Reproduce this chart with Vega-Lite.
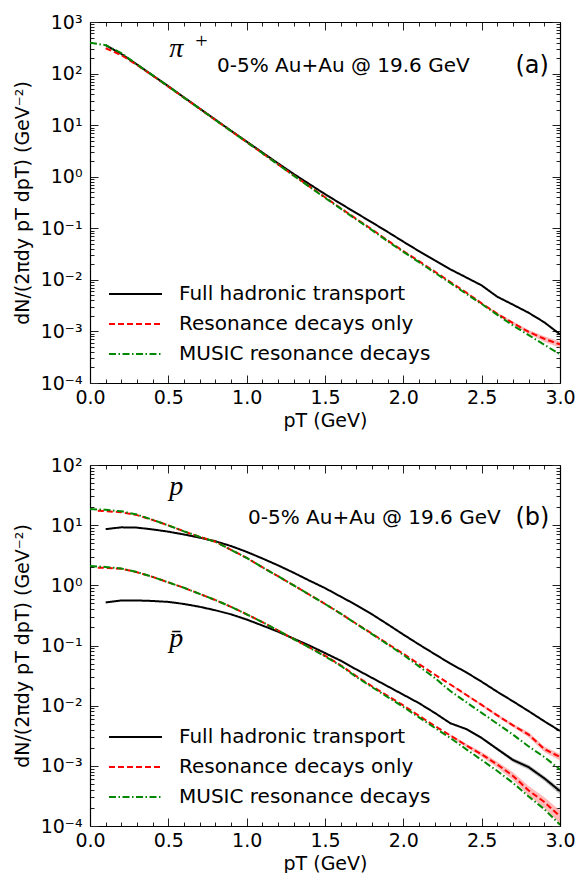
{
  "$schema": "https://vega.github.io/schema/vega-lite/v6.json",
  "autosize": {"type": "pad"},
  "padding": {"left": 13, "top": 13, "right": 5, "bottom": 0},
  "background": "white",
  "bounds": "flush",
  "spacing": 82,
  "config": {
    "view": {"stroke": null},
    "axis": {
      "grid": false,
      "domainColor": "black",
      "domainWidth": 1.2,
      "tickColor": "#222222",
      "tickWidth": 1,
      "labelFont": "DejaVu Sans",
      "labelFontSize": 19,
      "labelColor": "black",
      "labelOverlap": false,
      "labelBound": false,
      "labelFlush": false,
      "titleFont": "DejaVu Sans",
      "titleFontSize": 19,
      "titleFontWeight": "normal",
      "titleColor": "black"
    },
    "text": {"font": "DejaVu Sans", "color": "black"}
  },
  "datasets": {
    "pion": [
      {"s":"full","pT":0.1,"v":355},{"s":"full","pT":0.2,"v":240},{"s":"full","pT":0.3,"v":150},{"s":"full","pT":0.4,"v":92},{"s":"full","pT":0.5,"v":57},
      {"s":"full","pT":0.6,"v":34.5},{"s":"full","pT":0.7,"v":21},{"s":"full","pT":0.8,"v":12.8},{"s":"full","pT":0.9,"v":7.8},{"s":"full","pT":1.0,"v":4.8},
      {"s":"full","pT":1.1,"v":2.95},{"s":"full","pT":1.2,"v":1.82},{"s":"full","pT":1.3,"v":1.13},{"s":"full","pT":1.4,"v":0.72},{"s":"full","pT":1.5,"v":0.46},
      {"s":"full","pT":1.6,"v":0.3},{"s":"full","pT":1.7,"v":0.197},{"s":"full","pT":1.8,"v":0.13},{"s":"full","pT":1.9,"v":0.085},{"s":"full","pT":2.0,"v":0.055},
      {"s":"full","pT":2.1,"v":0.036},{"s":"full","pT":2.2,"v":0.024},{"s":"full","pT":2.3,"v":0.016},{"s":"full","pT":2.4,"v":0.0112},{"s":"full","pT":2.5,"v":0.0078},
      {"s":"full","pT":2.6,"v":0.0047},{"s":"full","pT":2.7,"v":0.0033},{"s":"full","pT":2.8,"v":0.0023},{"s":"full","pT":2.9,"v":0.0015},{"s":"full","pT":3.0,"v":0.00088},
      {"s":"res","pT":0.1,"v":310},{"s":"res","pT":0.2,"v":228},{"s":"res","pT":0.3,"v":147},{"s":"res","pT":0.4,"v":91},{"s":"res","pT":0.5,"v":56},
      {"s":"res","pT":0.6,"v":34},{"s":"res","pT":0.7,"v":20.8},{"s":"res","pT":0.8,"v":12.6},{"s":"res","pT":0.9,"v":7.7},{"s":"res","pT":1.0,"v":4.7},
      {"s":"res","pT":1.1,"v":2.85},{"s":"res","pT":1.2,"v":1.74},{"s":"res","pT":1.3,"v":1.06},{"s":"res","pT":1.4,"v":0.65},{"s":"res","pT":1.5,"v":0.4},
      {"s":"res","pT":1.6,"v":0.245},{"s":"res","pT":1.7,"v":0.152},{"s":"res","pT":1.8,"v":0.095},{"s":"res","pT":1.9,"v":0.058},{"s":"res","pT":2.0,"v":0.036},
      {"s":"res","pT":2.1,"v":0.023},{"s":"res","pT":2.2,"v":0.0145},{"s":"res","pT":2.3,"v":0.0091},{"s":"res","pT":2.4,"v":0.0057},{"s":"res","pT":2.5,"v":0.0035},
      {"s":"res","pT":2.6,"v":0.0022},{"s":"res","pT":2.7,"v":0.00145},{"s":"res","pT":2.8,"v":0.00098},{"s":"res","pT":2.9,"v":0.00072},{"s":"res","pT":3.0,"v":0.00056},
      {"s":"music","pT":0.0,"v":395},{"s":"music","pT":0.1,"v":355},{"s":"music","pT":0.2,"v":250},{"s":"music","pT":0.3,"v":150},{"s":"music","pT":0.4,"v":92},
      {"s":"music","pT":0.5,"v":56.5},{"s":"music","pT":0.6,"v":34},{"s":"music","pT":0.7,"v":20.8},{"s":"music","pT":0.8,"v":12.6},{"s":"music","pT":0.9,"v":7.7},
      {"s":"music","pT":1.0,"v":4.7},{"s":"music","pT":1.1,"v":2.85},{"s":"music","pT":1.2,"v":1.73},{"s":"music","pT":1.3,"v":1.05},{"s":"music","pT":1.4,"v":0.64},
      {"s":"music","pT":1.5,"v":0.39},{"s":"music","pT":1.6,"v":0.24},{"s":"music","pT":1.7,"v":0.148},{"s":"music","pT":1.8,"v":0.092},{"s":"music","pT":1.9,"v":0.056},
      {"s":"music","pT":2.0,"v":0.035},{"s":"music","pT":2.1,"v":0.022},{"s":"music","pT":2.2,"v":0.0138},{"s":"music","pT":2.3,"v":0.0087},{"s":"music","pT":2.4,"v":0.0054},
      {"s":"music","pT":2.5,"v":0.0034},{"s":"music","pT":2.6,"v":0.0021},{"s":"music","pT":2.7,"v":0.0013},{"s":"music","pT":2.8,"v":0.00085},{"s":"music","pT":2.9,"v":0.00055},
      {"s":"music","pT":3.0,"v":0.00036}
    ],
    "pionBand": [
      {"s":"res","pT":2.4,"lo":0.0055,"hi":0.0059},{"s":"res","pT":2.5,"lo":0.00336,"hi":0.00364},{"s":"res","pT":2.6,"lo":0.00209,"hi":0.00231},
      {"s":"res","pT":2.7,"lo":0.00135,"hi":0.00155},{"s":"res","pT":2.8,"lo":0.00089,"hi":0.00107},{"s":"res","pT":2.9,"lo":0.00063,"hi":0.00081},
      {"s":"res","pT":3.0,"lo":0.00048,"hi":0.00064}
    ],
    "proton": [
      {"h":"p","s":"full","pT":0.1,"v":8.6},{"h":"p","s":"full","pT":0.2,"v":9.2},{"h":"p","s":"full","pT":0.3,"v":9.1},{"h":"p","s":"full","pT":0.4,"v":8.5},{"h":"p","s":"full","pT":0.5,"v":7.8},
      {"h":"p","s":"full","pT":0.6,"v":7.0},{"h":"p","s":"full","pT":0.7,"v":6.2},{"h":"p","s":"full","pT":0.8,"v":5.4},{"h":"p","s":"full","pT":0.9,"v":4.5},{"h":"p","s":"full","pT":1.0,"v":3.6},
      {"h":"p","s":"full","pT":1.1,"v":2.8},{"h":"p","s":"full","pT":1.2,"v":2.15},{"h":"p","s":"full","pT":1.3,"v":1.62},{"h":"p","s":"full","pT":1.4,"v":1.2},{"h":"p","s":"full","pT":1.5,"v":0.9},
      {"h":"p","s":"full","pT":1.6,"v":0.65},{"h":"p","s":"full","pT":1.7,"v":0.47},{"h":"p","s":"full","pT":1.8,"v":0.33},{"h":"p","s":"full","pT":1.9,"v":0.225},{"h":"p","s":"full","pT":2.0,"v":0.152},
      {"h":"p","s":"full","pT":2.1,"v":0.104},{"h":"p","s":"full","pT":2.2,"v":0.072},{"h":"p","s":"full","pT":2.3,"v":0.05},{"h":"p","s":"full","pT":2.4,"v":0.036},{"h":"p","s":"full","pT":2.5,"v":0.025},
      {"h":"p","s":"full","pT":2.6,"v":0.017},{"h":"p","s":"full","pT":2.7,"v":0.0118},{"h":"p","s":"full","pT":2.8,"v":0.0081},{"h":"p","s":"full","pT":2.9,"v":0.0055},{"h":"p","s":"full","pT":3.0,"v":0.0038},
      {"h":"pbar","s":"full","pT":0.1,"v":0.52},{"h":"pbar","s":"full","pT":0.2,"v":0.56},{"h":"pbar","s":"full","pT":0.3,"v":0.56},{"h":"pbar","s":"full","pT":0.4,"v":0.55},{"h":"pbar","s":"full","pT":0.5,"v":0.53},
      {"h":"pbar","s":"full","pT":0.6,"v":0.49},{"h":"pbar","s":"full","pT":0.7,"v":0.44},{"h":"pbar","s":"full","pT":0.8,"v":0.385},{"h":"pbar","s":"full","pT":0.9,"v":0.33},{"h":"pbar","s":"full","pT":1.0,"v":0.27},
      {"h":"pbar","s":"full","pT":1.1,"v":0.215},{"h":"pbar","s":"full","pT":1.2,"v":0.17},{"h":"pbar","s":"full","pT":1.3,"v":0.13},{"h":"pbar","s":"full","pT":1.4,"v":0.1},{"h":"pbar","s":"full","pT":1.5,"v":0.075},
      {"h":"pbar","s":"full","pT":1.6,"v":0.056},{"h":"pbar","s":"full","pT":1.7,"v":0.04},{"h":"pbar","s":"full","pT":1.8,"v":0.029},{"h":"pbar","s":"full","pT":1.9,"v":0.021},{"h":"pbar","s":"full","pT":2.0,"v":0.0152},
      {"h":"pbar","s":"full","pT":2.1,"v":0.011},{"h":"pbar","s":"full","pT":2.2,"v":0.0076},{"h":"pbar","s":"full","pT":2.3,"v":0.0051},{"h":"pbar","s":"full","pT":2.4,"v":0.0041},{"h":"pbar","s":"full","pT":2.5,"v":0.0029},
      {"h":"pbar","s":"full","pT":2.6,"v":0.0019},{"h":"pbar","s":"full","pT":2.7,"v":0.00125},{"h":"pbar","s":"full","pT":2.8,"v":0.00095},{"h":"pbar","s":"full","pT":2.9,"v":0.00062},{"h":"pbar","s":"full","pT":3.0,"v":0.00038},
      {"h":"p","s":"res","pT":0.05,"v":17.3},{"h":"p","s":"res","pT":0.1,"v":17.1},{"h":"p","s":"res","pT":0.2,"v":16.4},{"h":"p","s":"res","pT":0.3,"v":14.7},{"h":"p","s":"res","pT":0.4,"v":12.2},
      {"h":"p","s":"res","pT":0.5,"v":9.9},{"h":"p","s":"res","pT":0.6,"v":7.9},{"h":"p","s":"res","pT":0.7,"v":6.4},{"h":"p","s":"res","pT":0.8,"v":5.3},{"h":"p","s":"res","pT":0.9,"v":3.9},
      {"h":"p","s":"res","pT":1.0,"v":2.85},{"h":"p","s":"res","pT":1.1,"v":2.0},{"h":"p","s":"res","pT":1.2,"v":1.42},{"h":"p","s":"res","pT":1.3,"v":1.0},{"h":"p","s":"res","pT":1.4,"v":0.7},
      {"h":"p","s":"res","pT":1.5,"v":0.49},{"h":"p","s":"res","pT":1.6,"v":0.34},{"h":"p","s":"res","pT":1.7,"v":0.23},{"h":"p","s":"res","pT":1.8,"v":0.157},{"h":"p","s":"res","pT":1.9,"v":0.107},
      {"h":"p","s":"res","pT":2.0,"v":0.073},{"h":"p","s":"res","pT":2.1,"v":0.049},{"h":"p","s":"res","pT":2.2,"v":0.033},{"h":"p","s":"res","pT":2.3,"v":0.0225},{"h":"p","s":"res","pT":2.4,"v":0.0152},
      {"h":"p","s":"res","pT":2.5,"v":0.0103},{"h":"p","s":"res","pT":2.6,"v":0.0069},{"h":"p","s":"res","pT":2.7,"v":0.0047},{"h":"p","s":"res","pT":2.8,"v":0.0033},{"h":"p","s":"res","pT":2.9,"v":0.0019},
      {"h":"p","s":"res","pT":3.0,"v":0.0014},
      {"h":"pbar","s":"res","pT":0.05,"v":1.96},{"h":"pbar","s":"res","pT":0.1,"v":1.95},{"h":"pbar","s":"res","pT":0.2,"v":1.88},{"h":"pbar","s":"res","pT":0.3,"v":1.65},{"h":"pbar","s":"res","pT":0.4,"v":1.38},
      {"h":"pbar","s":"res","pT":0.5,"v":1.12},{"h":"pbar","s":"res","pT":0.6,"v":0.91},{"h":"pbar","s":"res","pT":0.7,"v":0.72},{"h":"pbar","s":"res","pT":0.8,"v":0.57},{"h":"pbar","s":"res","pT":0.9,"v":0.44},
      {"h":"pbar","s":"res","pT":1.0,"v":0.33},{"h":"pbar","s":"res","pT":1.1,"v":0.245},{"h":"pbar","s":"res","pT":1.2,"v":0.178},{"h":"pbar","s":"res","pT":1.3,"v":0.128},{"h":"pbar","s":"res","pT":1.4,"v":0.093},
      {"h":"pbar","s":"res","pT":1.5,"v":0.068},{"h":"pbar","s":"res","pT":1.6,"v":0.047},{"h":"pbar","s":"res","pT":1.7,"v":0.031},{"h":"pbar","s":"res","pT":1.8,"v":0.021},{"h":"pbar","s":"res","pT":1.9,"v":0.0145},
      {"h":"pbar","s":"res","pT":2.0,"v":0.0101},{"h":"pbar","s":"res","pT":2.1,"v":0.0068},{"h":"pbar","s":"res","pT":2.2,"v":0.0046},{"h":"pbar","s":"res","pT":2.3,"v":0.0032},{"h":"pbar","s":"res","pT":2.4,"v":0.0022},
      {"h":"pbar","s":"res","pT":2.5,"v":0.00155},{"h":"pbar","s":"res","pT":2.6,"v":0.00105},{"h":"pbar","s":"res","pT":2.7,"v":0.00068},{"h":"pbar","s":"res","pT":2.8,"v":0.00039},{"h":"pbar","s":"res","pT":2.9,"v":0.00025},
      {"h":"pbar","s":"res","pT":3.0,"v":0.000145},
      {"h":"p","s":"music","pT":0.0,"v":18.5},{"h":"p","s":"music","pT":0.1,"v":18.0},{"h":"p","s":"music","pT":0.2,"v":17.0},{"h":"p","s":"music","pT":0.3,"v":15.0},{"h":"p","s":"music","pT":0.4,"v":12.3},
      {"h":"p","s":"music","pT":0.5,"v":9.9},{"h":"p","s":"music","pT":0.6,"v":7.9},{"h":"p","s":"music","pT":0.7,"v":6.4},{"h":"p","s":"music","pT":0.8,"v":5.3},{"h":"p","s":"music","pT":0.9,"v":3.9},
      {"h":"p","s":"music","pT":1.0,"v":2.85},{"h":"p","s":"music","pT":1.1,"v":2.0},{"h":"p","s":"music","pT":1.2,"v":1.42},{"h":"p","s":"music","pT":1.3,"v":1.0},{"h":"p","s":"music","pT":1.4,"v":0.7},
      {"h":"p","s":"music","pT":1.5,"v":0.49},{"h":"p","s":"music","pT":1.6,"v":0.34},{"h":"p","s":"music","pT":1.7,"v":0.228},{"h":"p","s":"music","pT":1.8,"v":0.155},{"h":"p","s":"music","pT":1.9,"v":0.104},
      {"h":"p","s":"music","pT":2.0,"v":0.07},{"h":"p","s":"music","pT":2.1,"v":0.045},{"h":"p","s":"music","pT":2.2,"v":0.029},{"h":"p","s":"music","pT":2.3,"v":0.0175},{"h":"p","s":"music","pT":2.4,"v":0.0115},
      {"h":"p","s":"music","pT":2.5,"v":0.0076},{"h":"p","s":"music","pT":2.6,"v":0.005},{"h":"p","s":"music","pT":2.7,"v":0.0033},{"h":"p","s":"music","pT":2.8,"v":0.0021},{"h":"p","s":"music","pT":2.9,"v":0.0014},
      {"h":"p","s":"music","pT":3.0,"v":0.00087},
      {"h":"pbar","s":"music","pT":0.0,"v":2.1},{"h":"pbar","s":"music","pT":0.1,"v":2.02},{"h":"pbar","s":"music","pT":0.2,"v":1.9},{"h":"pbar","s":"music","pT":0.3,"v":1.66},{"h":"pbar","s":"music","pT":0.4,"v":1.38},
      {"h":"pbar","s":"music","pT":0.5,"v":1.12},{"h":"pbar","s":"music","pT":0.6,"v":0.91},{"h":"pbar","s":"music","pT":0.7,"v":0.72},{"h":"pbar","s":"music","pT":0.8,"v":0.57},{"h":"pbar","s":"music","pT":0.9,"v":0.44},
      {"h":"pbar","s":"music","pT":1.0,"v":0.33},{"h":"pbar","s":"music","pT":1.1,"v":0.245},{"h":"pbar","s":"music","pT":1.2,"v":0.178},{"h":"pbar","s":"music","pT":1.3,"v":0.128},{"h":"pbar","s":"music","pT":1.4,"v":0.092},
      {"h":"pbar","s":"music","pT":1.5,"v":0.066},{"h":"pbar","s":"music","pT":1.6,"v":0.046},{"h":"pbar","s":"music","pT":1.7,"v":0.03},{"h":"pbar","s":"music","pT":1.8,"v":0.0203},{"h":"pbar","s":"music","pT":1.9,"v":0.0139},
      {"h":"pbar","s":"music","pT":2.0,"v":0.0095},{"h":"pbar","s":"music","pT":2.1,"v":0.0064},{"h":"pbar","s":"music","pT":2.2,"v":0.0043},{"h":"pbar","s":"music","pT":2.3,"v":0.0029},{"h":"pbar","s":"music","pT":2.4,"v":0.0019},
      {"h":"pbar","s":"music","pT":2.5,"v":0.00125},{"h":"pbar","s":"music","pT":2.6,"v":0.00082},{"h":"pbar","s":"music","pT":2.7,"v":0.00052},{"h":"pbar","s":"music","pT":2.8,"v":0.00031},{"h":"pbar","s":"music","pT":2.9,"v":0.00019},
      {"h":"pbar","s":"music","pT":3.0,"v":0.000105}
    ],
    "protonBand": [
      {"h":"p","s":"res","pT":2.3,"lo":0.0218,"hi":0.0232},{"h":"p","s":"res","pT":2.4,"lo":0.0146,"hi":0.0158},{"h":"p","s":"res","pT":2.5,"lo":0.0098,"hi":0.0108},
      {"h":"p","s":"res","pT":2.6,"lo":0.0065,"hi":0.0073},{"h":"p","s":"res","pT":2.7,"lo":0.0044,"hi":0.005},{"h":"p","s":"res","pT":2.8,"lo":0.003,"hi":0.0036},
      {"h":"p","s":"res","pT":2.9,"lo":0.0017,"hi":0.0021},{"h":"p","s":"res","pT":3.0,"lo":0.00123,"hi":0.00157},
      {"h":"pbar","s":"res","pT":2.3,"lo":0.00304,"hi":0.00336},{"h":"pbar","s":"res","pT":2.4,"lo":0.00205,"hi":0.00235},{"h":"pbar","s":"res","pT":2.5,"lo":0.00141,"hi":0.00169},
      {"h":"pbar","s":"res","pT":2.6,"lo":0.00093,"hi":0.00117},{"h":"pbar","s":"res","pT":2.7,"lo":0.00058,"hi":0.00078},{"h":"pbar","s":"res","pT":2.8,"lo":0.00032,"hi":0.00046},
      {"h":"pbar","s":"res","pT":2.9,"lo":0.0002,"hi":0.0003},{"h":"pbar","s":"res","pT":3.0,"lo":0.000109,"hi":0.000181},
      {"h":"pbar","s":"full","pT":2.4,"lo":0.00394,"hi":0.00426},{"h":"pbar","s":"full","pT":2.5,"lo":0.00276,"hi":0.00304},{"h":"pbar","s":"full","pT":2.6,"lo":0.00179,"hi":0.00201},
      {"h":"pbar","s":"full","pT":2.7,"lo":0.00115,"hi":0.00135},{"h":"pbar","s":"full","pT":2.8,"lo":0.00086,"hi":0.00104},{"h":"pbar","s":"full","pT":2.9,"lo":0.00056,"hi":0.00068},
      {"h":"pbar","s":"full","pT":3.0,"lo":0.000334,"hi":0.000426}
    ],
    "notesA": [
      {"k":"math","t":"π","pT":0.551,"v":207},
      {"k":"sup","t":"+","pT":0.711,"v":429},
      {"k":"label","t":"0-5% Au+Au @ 19.6 GeV","pT":0.811,"v":140},
      {"k":"tag","t":"(a)","pT":2.716,"v":140}
    ],
    "notesB": [
      {"k":"math","t":"p","pT":0.551,"v":31.4},
      {"k":"math","t":"p̄","pT":0.551,"v":0.096},
      {"k":"label","t":"0-5% Au+Au @ 19.6 GeV","pT":1.009,"v":13},
      {"k":"tag","t":"(b)","pT":2.716,"v":13}
    ]
  },
  "vconcat": [
    {
      "width": 470,
      "height": 361,
      "layer": [
        {
          "data": {"name": "pionBand"},
          "mark": {"type": "area", "color": "#ff8080", "opacity": 0.55, "clip": true},
          "encoding": {
            "x": {"field": "pT", "type": "quantitative", "scale": {"domain": [0, 3], "nice": false}, "axis": null},
            "y": {"field": "lo", "type": "quantitative", "scale": {"type": "log", "domain": [0.0001, 1000], "nice": false}, "axis": null},
            "y2": {"field": "hi"}
          }
        },
        {
          "data": {"name": "pion"},
          "mark": {"type": "line", "strokeWidth": 2, "clip": true},
          "encoding": {
            "x": {
              "field": "pT", "type": "quantitative",
              "axis": {
                "orient": "bottom",
                "title": "pT (GeV)",
                "titlePadding": 0,
                "values": [0,0.1,0.2,0.3,0.4,0.5,0.6,0.7,0.8,0.9,1,1.1,1.2,1.3,1.4,1.5,1.6,1.7,1.8,1.9,2,2.1,2.2,2.3,2.4,2.5,2.6,2.7,2.8,2.9,3],
                "labelExpr": "abs(datum.value*2-round(datum.value*2))<0.001 ? format(datum.value, '.1f') : ''",
                "tickSize": {"condition": {"test": "abs(datum.value*2-round(datum.value*2))<0.001", "value": -8}, "value": -4},
                "labelPadding": 13
              }
            },
            "y": {
              "field": "v", "type": "quantitative",
              "axis": {
                "orient": "left",
                "title": "dN/(2πdy pT dpT) (GeV⁻²)",
                "titlePadding": 8,
                "values": [0.0001,0.0002,0.0003,0.0004,0.0005,0.0006,0.0007,0.0008,0.0009,0.001,0.002,0.003,0.004,0.005,0.006,0.007,0.008,0.009,0.01,0.02,0.03,0.04,0.05,0.06,0.07,0.08,0.09,0.1,0.2,0.3,0.4,0.5,0.6,0.7,0.8,0.9,1,2,3,4,5,6,7,8,9,10,20,30,40,50,60,70,80,90,100,200,300,400,500,600,700,800,900,1000],
                "labelExpr": "abs(log(datum.value)/LN10-round(log(datum.value)/LN10))<0.000001 ? ['10⁻⁴','10⁻³','10⁻²','10⁻¹','10⁰','10¹','10²','10³'][round(log(datum.value)/LN10)+4] : ''",
                "tickSize": {"condition": {"test": "abs(log(datum.value)/LN10-round(log(datum.value)/LN10))<0.000001", "value": -8}, "value": -4},
                "labelPadding": 16
              }
            },
            "color": {
              "field": "s", "type": "nominal",
              "scale": {"domain": ["full", "res", "music"], "range": ["#000000", "#ff0000", "#008800"]},
              "legend": {
                "title": null, "orient": "none", "legendX": 18, "legendY": 258,
                "labelExpr": "{'full': 'Full hadronic transport', 'res': 'Resonance decays only', 'music': 'MUSIC resonance decays'}[datum.value]",
                "symbolType": "stroke", "symbolSize": 2809, "symbolStrokeWidth": 2, "clipHeight": 28, "rowPadding": 2,
                "labelOffset": 16, "labelFontSize": 20, "labelLimit": 400, "labelFont": "DejaVu Sans", "labelColor": "black", "padding": 0
              }
            },
            "strokeDash": {
              "field": "s", "type": "nominal",
              "scale": {"domain": ["full", "res", "music"], "range": [[1, 0], [6, 3], [7, 2.5, 1.5, 2.5]]},
              "legend": {
                "title": null, "orient": "none", "legendX": 18, "legendY": 258,
                "labelExpr": "{'full': 'Full hadronic transport', 'res': 'Resonance decays only', 'music': 'MUSIC resonance decays'}[datum.value]",
                "symbolType": "stroke", "symbolSize": 2809, "symbolStrokeWidth": 2, "clipHeight": 28, "rowPadding": 2,
                "labelOffset": 16, "labelFontSize": 20, "labelLimit": 400, "labelFont": "DejaVu Sans", "labelColor": "black", "padding": 0
              }
            }
          }
        },
        {
          "data": {"name": "pion"},
          "mark": {"type": "line", "strokeOpacity": 0},
          "encoding": {
            "x": {
              "field": "pT", "type": "quantitative",
              "axis": {
                "orient": "top", "title": null, "labels": false,
                "values": [0,0.1,0.2,0.3,0.4,0.5,0.6,0.7,0.8,0.9,1,1.1,1.2,1.3,1.4,1.5,1.6,1.7,1.8,1.9,2,2.1,2.2,2.3,2.4,2.5,2.6,2.7,2.8,2.9,3],
                "tickSize": {"condition": {"test": "abs(datum.value*2-round(datum.value*2))<0.001", "value": -8}, "value": -4}
              }
            },
            "y": {
              "field": "v", "type": "quantitative",
              "axis": {
                "orient": "right", "title": null, "labels": false,
                "values": [0.0001,0.0002,0.0003,0.0004,0.0005,0.0006,0.0007,0.0008,0.0009,0.001,0.002,0.003,0.004,0.005,0.006,0.007,0.008,0.009,0.01,0.02,0.03,0.04,0.05,0.06,0.07,0.08,0.09,0.1,0.2,0.3,0.4,0.5,0.6,0.7,0.8,0.9,1,2,3,4,5,6,7,8,9,10,20,30,40,50,60,70,80,90,100,200,300,400,500,600,700,800,900,1000],
                "tickSize": {"condition": {"test": "abs(log(datum.value)/LN10-round(log(datum.value)/LN10))<0.000001", "value": -8}, "value": -4}
              }
            },
            "detail": {"field": "s"}
          }
        },
        {
          "data": {"name": "notesA"},
          "transform": [{"filter": "datum.k == 'math'"}],
          "mark": {"type": "text", "font": "Liberation Serif", "fontStyle": "italic", "fontSize": 28, "align": "center", "baseline": "alphabetic"},
          "encoding": {
            "x": {"field": "pT", "type": "quantitative", "axis": null},
            "y": {"field": "v", "type": "quantitative", "axis": null},
            "text": {"field": "t"}
          }
        },
        {
          "data": {"name": "notesA"},
          "transform": [{"filter": "datum.k == 'sup'"}],
          "mark": {"type": "text", "font": "Liberation Serif", "fontSize": 22, "align": "center", "baseline": "middle"},
          "encoding": {
            "x": {"field": "pT", "type": "quantitative", "axis": null},
            "y": {"field": "v", "type": "quantitative", "axis": null},
            "text": {"field": "t"}
          }
        },
        {
          "data": {"name": "notesA"},
          "transform": [{"filter": "datum.k == 'label'"}],
          "mark": {"type": "text", "fontSize": 20, "align": "left", "baseline": "middle"},
          "encoding": {
            "x": {"field": "pT", "type": "quantitative", "axis": null},
            "y": {"field": "v", "type": "quantitative", "axis": null},
            "text": {"field": "t"}
          }
        },
        {
          "data": {"name": "notesA"},
          "transform": [{"filter": "datum.k == 'tag'"}],
          "mark": {"type": "text", "fontSize": 24, "align": "left", "baseline": "middle"},
          "encoding": {
            "x": {"field": "pT", "type": "quantitative", "axis": null},
            "y": {"field": "v", "type": "quantitative", "axis": null},
            "text": {"field": "t"}
          }
        }
      ],
      "resolve": {"axis": {"x": "independent", "y": "independent"}}
    },
    {
      "width": 470,
      "height": 361,
      "layer": [
        {
          "data": {"name": "protonBand"},
          "transform": [{"filter": "datum.s == 'res'"}],
          "mark": {"type": "area", "color": "#ff8080", "opacity": 0.55, "clip": true},
          "encoding": {
            "x": {"field": "pT", "type": "quantitative", "scale": {"domain": [0, 3], "nice": false}, "axis": null},
            "y": {"field": "lo", "type": "quantitative", "scale": {"type": "log", "domain": [0.0001, 100], "nice": false}, "axis": null},
            "y2": {"field": "hi"},
            "detail": {"field": "h"}
          }
        },
        {
          "data": {"name": "protonBand"},
          "transform": [{"filter": "datum.s == 'full'"}],
          "mark": {"type": "area", "color": "#888888", "opacity": 0.5, "clip": true},
          "encoding": {
            "x": {"field": "pT", "type": "quantitative", "axis": null},
            "y": {"field": "lo", "type": "quantitative", "axis": null},
            "y2": {"field": "hi"},
            "detail": {"field": "h"}
          }
        },
        {
          "data": {"name": "proton"},
          "mark": {"type": "line", "strokeWidth": 2, "clip": true},
          "encoding": {
            "x": {
              "field": "pT", "type": "quantitative",
              "axis": {
                "orient": "bottom",
                "title": "pT (GeV)",
                "titlePadding": 0,
                "values": [0,0.1,0.2,0.3,0.4,0.5,0.6,0.7,0.8,0.9,1,1.1,1.2,1.3,1.4,1.5,1.6,1.7,1.8,1.9,2,2.1,2.2,2.3,2.4,2.5,2.6,2.7,2.8,2.9,3],
                "labelExpr": "abs(datum.value*2-round(datum.value*2))<0.001 ? format(datum.value, '.1f') : ''",
                "tickSize": {"condition": {"test": "abs(datum.value*2-round(datum.value*2))<0.001", "value": -8}, "value": -4},
                "labelPadding": 13
              }
            },
            "y": {
              "field": "v", "type": "quantitative",
              "axis": {
                "orient": "left",
                "title": "dN/(2πdy pT dpT) (GeV⁻²)",
                "titlePadding": 8,
                "values": [0.0001,0.0002,0.0003,0.0004,0.0005,0.0006,0.0007,0.0008,0.0009,0.001,0.002,0.003,0.004,0.005,0.006,0.007,0.008,0.009,0.01,0.02,0.03,0.04,0.05,0.06,0.07,0.08,0.09,0.1,0.2,0.3,0.4,0.5,0.6,0.7,0.8,0.9,1,2,3,4,5,6,7,8,9,10,20,30,40,50,60,70,80,90,100],
                "labelExpr": "abs(log(datum.value)/LN10-round(log(datum.value)/LN10))<0.000001 ? ['10⁻⁴','10⁻³','10⁻²','10⁻¹','10⁰','10¹','10²','10³'][round(log(datum.value)/LN10)+4] : ''",
                "tickSize": {"condition": {"test": "abs(log(datum.value)/LN10-round(log(datum.value)/LN10))<0.000001", "value": -8}, "value": -4},
                "labelPadding": 16
              }
            },
            "detail": {"field": "h"},
            "color": {
              "field": "s", "type": "nominal",
              "scale": {"domain": ["full", "res", "music"], "range": ["#000000", "#ff0000", "#008800"]},
              "legend": {
                "title": null, "orient": "none", "legendX": 18, "legendY": 258,
                "labelExpr": "{'full': 'Full hadronic transport', 'res': 'Resonance decays only', 'music': 'MUSIC resonance decays'}[datum.value]",
                "symbolType": "stroke", "symbolSize": 2809, "symbolStrokeWidth": 2, "clipHeight": 28, "rowPadding": 2,
                "labelOffset": 16, "labelFontSize": 20, "labelLimit": 400, "labelFont": "DejaVu Sans", "labelColor": "black", "padding": 0
              }
            },
            "strokeDash": {
              "field": "s", "type": "nominal",
              "scale": {"domain": ["full", "res", "music"], "range": [[1, 0], [6, 3], [7, 2.5, 1.5, 2.5]]},
              "legend": {
                "title": null, "orient": "none", "legendX": 18, "legendY": 258,
                "labelExpr": "{'full': 'Full hadronic transport', 'res': 'Resonance decays only', 'music': 'MUSIC resonance decays'}[datum.value]",
                "symbolType": "stroke", "symbolSize": 2809, "symbolStrokeWidth": 2, "clipHeight": 28, "rowPadding": 2,
                "labelOffset": 16, "labelFontSize": 20, "labelLimit": 400, "labelFont": "DejaVu Sans", "labelColor": "black", "padding": 0
              }
            }
          }
        },
        {
          "data": {"name": "proton"},
          "mark": {"type": "line", "strokeOpacity": 0},
          "encoding": {
            "x": {
              "field": "pT", "type": "quantitative",
              "axis": {
                "orient": "top", "title": null, "labels": false,
                "values": [0,0.1,0.2,0.3,0.4,0.5,0.6,0.7,0.8,0.9,1,1.1,1.2,1.3,1.4,1.5,1.6,1.7,1.8,1.9,2,2.1,2.2,2.3,2.4,2.5,2.6,2.7,2.8,2.9,3],
                "tickSize": {"condition": {"test": "abs(datum.value*2-round(datum.value*2))<0.001", "value": -8}, "value": -4}
              }
            },
            "y": {
              "field": "v", "type": "quantitative",
              "axis": {
                "orient": "right", "title": null, "labels": false,
                "values": [0.0001,0.0002,0.0003,0.0004,0.0005,0.0006,0.0007,0.0008,0.0009,0.001,0.002,0.003,0.004,0.005,0.006,0.007,0.008,0.009,0.01,0.02,0.03,0.04,0.05,0.06,0.07,0.08,0.09,0.1,0.2,0.3,0.4,0.5,0.6,0.7,0.8,0.9,1,2,3,4,5,6,7,8,9,10,20,30,40,50,60,70,80,90,100],
                "tickSize": {"condition": {"test": "abs(log(datum.value)/LN10-round(log(datum.value)/LN10))<0.000001", "value": -8}, "value": -4}
              }
            },
            "detail": {"field": "h"}
          }
        },
        {
          "data": {"name": "notesB"},
          "transform": [{"filter": "datum.k == 'math'"}],
          "mark": {"type": "text", "font": "Liberation Serif", "fontStyle": "italic", "fontSize": 28, "align": "center", "baseline": "alphabetic"},
          "encoding": {
            "x": {"field": "pT", "type": "quantitative", "axis": null},
            "y": {"field": "v", "type": "quantitative", "axis": null},
            "text": {"field": "t"}
          }
        },
        {
          "data": {"name": "notesB"},
          "transform": [{"filter": "datum.k == 'label'"}],
          "mark": {"type": "text", "fontSize": 20, "align": "left", "baseline": "middle"},
          "encoding": {
            "x": {"field": "pT", "type": "quantitative", "axis": null},
            "y": {"field": "v", "type": "quantitative", "axis": null},
            "text": {"field": "t"}
          }
        },
        {
          "data": {"name": "notesB"},
          "transform": [{"filter": "datum.k == 'tag'"}],
          "mark": {"type": "text", "fontSize": 24, "align": "left", "baseline": "middle"},
          "encoding": {
            "x": {"field": "pT", "type": "quantitative", "axis": null},
            "y": {"field": "v", "type": "quantitative", "axis": null},
            "text": {"field": "t"}
          }
        }
      ],
      "resolve": {"axis": {"x": "independent", "y": "independent"}}
    }
  ],
  "resolve": {
    "scale": {"color": "independent", "strokeDash": "independent"},
    "legend": {"color": "independent", "strokeDash": "independent"}
  }
}
